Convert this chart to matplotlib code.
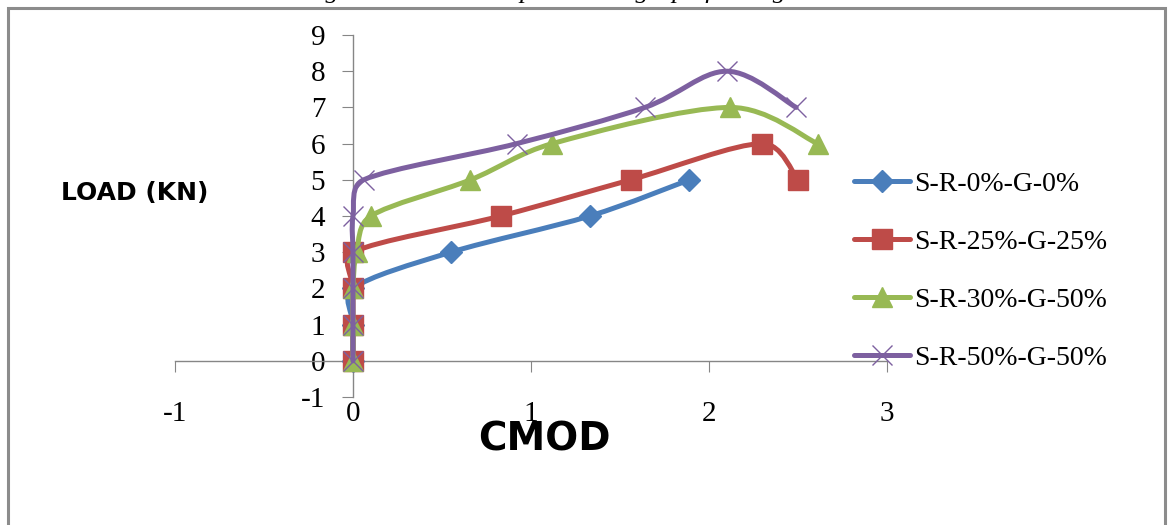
import math
import matplotlib
matplotlib.use("Agg")
import matplotlib.pyplot as plt
from matplotlib.path import Path
from matplotlib.patches import PathPatch, Rectangle
from matplotlib.lines import Line2D

plt.rcParams["axes.unicode_minus"] = False

# data (CMOD, load in kN)
x_r0 = [0, 0, 0, 0.55, 1.33, 1.89]
y_r0 = [0, 1, 2, 3, 4, 5]
x_r25 = [0, 0, 0, 0, 0.83, 1.56, 2.30, 2.50]
y_r25 = [0, 1, 2, 3, 4, 5, 6, 5]
x_r30 = [0, 0, 0, 0.02, 0.10, 0.66, 1.12, 2.12, 2.61]
y_r30 = [0, 1, 2, 3, 4, 5, 6, 7, 6]
x_r50 = [0, 0, 0, 0, 0, 0.06, 0.92, 1.64, 2.10, 2.49]
y_r50 = [0, 1, 2, 3, 4, 5, 6, 7, 8, 7]

labels = ["S-R-0%-G-0%", "S-R-25%-G-25%", "S-R-30%-G-50%", "S-R-50%-G-50%"]
colors = ["#4A7EBB", "#BE4B48", "#98B954", "#7D60A0"]
markers = ["D", "s", "^", "x"]
msizes = [11, 14, 15, 15]

x_ticks = [-1, 0, 1, 2, 3]
y_ticks = list(range(-1, 10))

SERIF = "Liberation Serif"
AXIS_GREY = "#868686"
# rough pixel size of one data unit, used to keep the smoothing from overshooting
PX_X, PX_Y = 178.0, 36.2


def _limit(arm, seg, k=0.4):
    ax_, ay_ = arm[0] * PX_X, arm[1] * PX_Y
    sl = math.hypot(seg[0] * PX_X, seg[1] * PX_Y)
    al = math.hypot(ax_, ay_)
    if al > k * sl and al > 0:
        f = k * sl / al
        return (arm[0] * f, arm[1] * f)
    return arm


def smooth_path(xs, ys):
    """Excel-like smoothed line: cubic bezier through the points."""
    pts = list(zip(xs, ys))
    n = len(pts)
    verts = [pts[0]]
    codes = [Path.MOVETO]
    for i in range(n - 1):
        p0 = pts[i - 1] if i > 0 else pts[i]
        p1 = pts[i]
        p2 = pts[i + 1]
        p3 = pts[i + 2] if i + 2 < n else pts[i + 1]
        seg = (p2[0] - p1[0], p2[1] - p1[1])
        a1 = _limit(((p2[0] - p0[0]) / 6, (p2[1] - p0[1]) / 6), seg)
        a2 = _limit(((p3[0] - p1[0]) / 6, (p3[1] - p1[1]) / 6), seg)
        c1 = (p1[0] + a1[0], p1[1] + a1[1])
        c2 = (p2[0] - a2[0], p2[1] - a2[1])
        verts += [c1, c2, p2]
        codes += [Path.CURVE4] * 3
    return Path(verts, codes)


fig = plt.figure(figsize=(11.68, 5.25), dpi=100)
fig.patch.set_facecolor("white")

# outer chart frame (runs off the bottom of the picture)
fig.patches.append(Rectangle((0.0065, -0.1), 0.991, 1.0855, transform=fig.transFigure,
                             fill=False, edgecolor="#8C8C8C", linewidth=2.2))

# caption of the page, mostly cut off at the top
fig.text(0.503, 1.0045, "Fig 4.6: Load vs Displacement graph for large beams",
         ha="center", va="baseline", fontsize=19, style="italic", family=SERIF)

ax = fig.add_axes([0.1498, 0.2438, 0.6096, 0.6895])
ax.set_xlim(-1, 3)
ax.set_ylim(-1, 9)
for s in ["top", "right"]:
    ax.spines[s].set_visible(False)
ax.spines["left"].set_position(("data", 0))
ax.spines["bottom"].set_position(("data", 0))
for s in ["left", "bottom"]:
    ax.spines[s].set_color(AXIS_GREY)
    ax.spines[s].set_linewidth(1.0)

ax.set_xticks(x_ticks)
ax.set_yticks(y_ticks)
ax.tick_params(axis="x", direction="out", length=8, color=AXIS_GREY, labelbottom=False)
ax.tick_params(axis="y", direction="out", length=8, color=AXIS_GREY, pad=12, labelsize=21)
for t in ax.get_yticklabels():
    t.set_family(SERIF)

# x tick labels sit at the bottom of the plot area, like Excel's "low" position
sec = ax.secondary_xaxis("bottom")
sec.set_xticks(x_ticks)
sec.tick_params(length=0, pad=3, labelsize=21)
sec.spines["bottom"].set_visible(False)
for t in sec.get_xticklabels():
    t.set_family(SERIF)

series = [(x_r0, y_r0), (x_r25, y_r25), (x_r30, y_r30), (x_r50, y_r50)]
handles = []
for (xs, ys), lab, c, m, ms in zip(series, labels, colors, markers, msizes):
    ax.add_patch(PathPatch(smooth_path(xs, ys), fill=False, edgecolor=c, linewidth=3.6,
                           capstyle="round", joinstyle="round", zorder=3))
    if m == "x":
        ax.plot(xs, ys, linestyle="none", marker=m, markersize=ms, markeredgewidth=1.0,
                color=c, zorder=3, clip_on=False)
    else:
        ax.plot(xs, ys, linestyle="none", marker=m, markersize=ms, markerfacecolor=c,
                markeredgecolor=c, zorder=3, clip_on=False)
    handles.append(Line2D([], [], color=c, linewidth=3.6, marker=m, markersize=ms,
                          markeredgewidth=1.0, markerfacecolor=c, markeredgecolor=c,
                          solid_capstyle="round"))

fig.legend(handles, labels, loc="upper left", bbox_to_anchor=(0.7315, 0.673),
           frameon=False, prop={"family": SERIF, "size": 20}, handlelength=2.0,
           handletextpad=0.15, labelspacing=1.17, borderpad=0, borderaxespad=0)

fig.text(0.115, 0.632, "LOAD (KN)", ha="center", va="center", fontsize=18,
         fontweight="bold", family="DejaVu Sans")
fig.text(0.466, 0.163, "CMOD", ha="center", va="center", fontsize=28,
         fontweight="bold", family="DejaVu Sans")

fig.savefig("out.png", dpi=100)
